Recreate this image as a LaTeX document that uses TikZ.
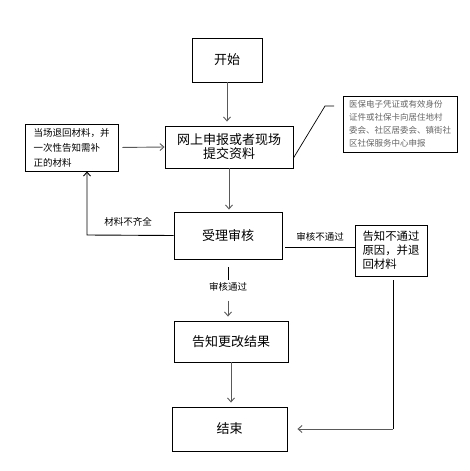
\documentclass[tikz,border=0pt]{standalone}
\usepackage{fontspec}
\setmainfont{Noto Sans CJK SC}
\usetikzlibrary{arrows.meta, positioning}

\begin{document}
\begin{tikzpicture}[x=1pt, y=-1pt,
    box/.style={draw=black, line width=0.9pt, inner sep=2pt, align=center},
    flow/.style={draw=black!65, line width=0.9pt, -{Straight Barb[length=4pt, width=7pt]}},
    plain/.style={draw=black, line width=0.9pt},
    lbl/.style={font=\fontsize{9.5}{11}\selectfont, inner sep=2pt}]
  \useasboundingbox (0,0) rectangle (470,471);
  % main column
  \node[box, minimum width=70pt, minimum height=44pt, font=\fontsize{13}{15}\selectfont] (start) at (227,60) {开始};
  \node[box, minimum width=128pt, minimum height=42pt, font=\fontsize{13}{14}\selectfont] (submit) at (229,147) {网上申报或者现场\\提交资料};
  \node[box, minimum width=108pt, minimum height=47pt, font=\fontsize{13}{15}\selectfont] (review) at (228,235.5) {受理审核};
  \node[box, minimum width=114pt, minimum height=41pt, font=\fontsize{13}{15}\selectfont] (inform) at (231,341.5) {告知更改结果};
  \node[box, minimum width=115pt, minimum height=44pt, font=\fontsize{13}{15}\selectfont] (finish) at (229.5,429) {结束};
  % side boxes
  \node[box, align=left, minimum width=93pt, minimum height=47pt, font=\fontsize{9.5}{15}\selectfont] (back) at (71.5,147.5) {当场退回材料，并\\一次性告知需补\\正的材料};
  \node[box, align=left, minimum width=72pt, minimum height=51pt, font=\fontsize{11.4}{14}\selectfont] (reject) at (391,250.5) {告知不通过\\原因，并退\\回材料};
  \node[box, align=left, text=black!60, minimum width=114pt, minimum height=56pt, font=\fontsize{8.5}{13}\selectfont] (note) at (400,124) {医保电子凭证或有效身份\\证件或社保卡向居住地村\\委会、社区居委会、镇街社\\区社保服务中心申报};
  % labels
  \node[lbl] (lack) at (128,222) {材料不齐全};
  \node[lbl] (fail) at (320,237) {审核不通过};
  \node[lbl] (pass) at (228,287) {审核通过};
  \coordinate (loop) at (87,235);
  \coordinate (knee) at (325,106);
  \coordinate (tip) at (334,106);
  % connectors
  \draw[flow, shorten >=4pt] (start.south) -- (start.south |- submit.north);
  \draw[flow, shorten <=4pt] (back.east) -- (submit.west);
  \draw[flow, shorten >=2pt] (submit.south) -- (submit.south |- review.north);
  \draw[plain, -{Straight Barb[length=4pt, width=7pt]}] (review.west) -- (loop) -- (loop |- back.south);
  \draw[plain] ([xshift=3pt, yshift=-11.5pt]review.east) -- ([yshift=3.5pt]reject.west);
  \draw[plain, shorten <=8pt] (review.south) -- (pass.north);
  \draw[flow, shorten <=7pt, shorten >=4pt] (pass.south) -- (pass.south |- inform.north);
  \draw[flow, shorten >=4pt] (inform.south) -- (inform.south |- finish.north);
  \draw[plain, shorten <=4pt] ([xshift=2pt]reject.south) -- ([xshift=2pt]reject.south |- finish.east);
  \draw[flow, shorten >=10pt] ([xshift=2pt]reject.south |- finish.east) -- (finish.east);
  \draw[plain, line width=0.7pt] ([yshift=-11pt]submit.east) -- (knee) -- (tip);
\end{tikzpicture}
\end{document}
